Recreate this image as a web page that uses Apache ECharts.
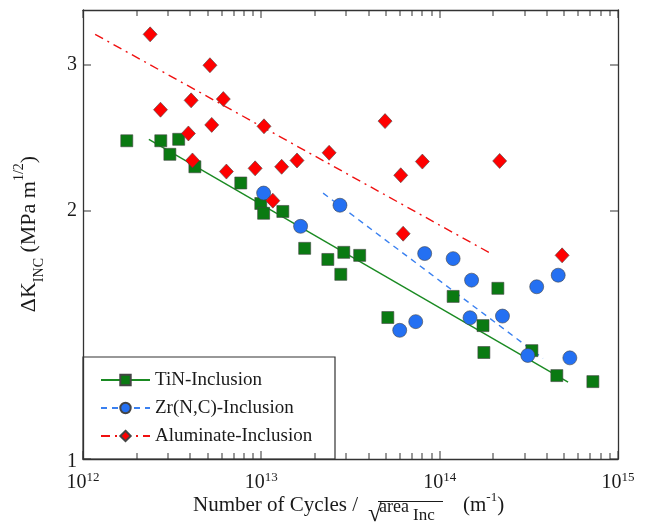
<!DOCTYPE html>
<html>
<head>
<meta charset="utf-8">
<script src="https://cdn.jsdelivr.net/npm/echarts@6/dist/echarts.min.js"></script>
<style>
html,body{margin:0;padding:0;background:#fff;}
#chart{width:646px;height:526px;}
</style>
</head>
<body>
<div id="chart"></div>
<script>
// ---- data ----
const tinX = [1.76e12, 2.73e12, 3.44e12, 3.07e12, 4.24e12, 7.67e12, 9.93e12, 1.03e13, 1.32e13, 1.75e13, 2.36e13, 2.9e13, 2.79e13, 3.56e13, 5.12e13, 1.19e14, 1.75e14, 1.77e14, 2.12e14, 3.29e14, 4.54e14, 7.23e14];
const tinY = [2.43, 2.43, 2.44, 2.34, 2.26, 2.16, 2.04, 1.985, 1.995, 1.80, 1.745, 1.78, 1.674, 1.765, 1.484, 1.574, 1.451, 1.346, 1.61, 1.353, 1.262, 1.241];

const zrX = [1.03e13, 1.66e13, 2.76e13, 8.24e13, 1.19e14, 1.51e14, 1.48e14, 2.25e14, 5.97e13, 7.34e13, 3.5e14, 4.62e14, 3.12e14, 5.37e14];
const zrY = [2.10, 1.914, 2.03, 1.774, 1.749, 1.647, 1.483, 1.49, 1.432, 1.467, 1.617, 1.67, 1.335, 1.326];

const alX = [2.38e12, 2.72e12, 5.15e12, 4.04e12, 6.12e12, 5.27e12, 3.9e12, 1.035e13, 4.11e12, 6.37e12, 9.23e12, 1.3e13, 1.585e13, 1.16e13, 2.4e13, 4.94e13, 8.0e13, 6.05e13, 2.17e14, 6.24e13, 4.86e14];
const alY = [3.27, 2.65, 3.0, 2.72, 2.73, 2.54, 2.48, 2.53, 2.30, 2.23, 2.25, 2.26, 2.30, 2.056, 2.35, 2.567, 2.293, 2.207, 2.297, 1.875, 1.765];

const tinFitX = [2.34e12, 5.25e14];
const tinFitY = [2.44, 1.239];
const zrFitX = [2.22e13, 3.8e14];
const zrFitY = [2.10, 1.324];
const alFitX = [1.17e12, 1.93e14];
const alFitY = [3.27, 1.775];

const seriesNames = ['TiN-Inclusion', 'Zr(N,C)-Inclusion', 'Aluminate-Inclusion'];
const xMin = 1e12, xMax = 1e15;
const yMin = 1, yMax = 3.5;
const yTickValues = [1, 2, 3];
const yTickLabels = ['1', '2', '3'];
const xMajorValues = [1e12, 1e13, 1e14, 1e15];
const xDecades = [1e12, 1e13, 1e14];
const xMinorMult = [2, 3, 4, 5, 6, 7, 8, 9];

// ---- styling ----
const FONT = '"Liberation Serif", "Times New Roman", serif';
const AXIS = '#333';
const TXT = '#1a1a1a';
const GREEN = '#0a7a12', GREEN_LINE = '#1a8a22';
const BLUE = '#2470f2', BLUE_LINE = '#3a80f0';
const RED = '#ff0000', RED_LINE = '#f01010';

const zip = (xs, ys) => xs.map((x, i) => [x, ys[i]]);
const xMinorValues = [];
xDecades.forEach(d => xMinorMult.forEach(m => xMinorValues.push(m * d)));

// tick rows: [x, y, kind]  kind 0 = x major, 1 = x minor, 2 = y major
const tickRows = []
  .concat(xMajorValues.map(v => [v, yMin, 0]))
  .concat(xMinorValues.map(v => [v, yMin, 1]))
  .concat(yTickValues.map(v => [xMin, v, 2]));

const chart = echarts.init(document.getElementById('chart'), null, {renderer: 'canvas'});

function tickRender(params, api) {
  const kind = api.value(2);
  const children = [];
  if (kind === 0 || kind === 1) {
    const v = api.value(0);
    const b = api.coord([v, yMin]);
    const t = api.coord([v, yMax]);
    const len = kind === 0 ? 8 : 6;
    const x = Math.round(b[0]) - 0.5;
    children.push({type: 'rect', shape: {x: x, y: b[1] - len, width: 1, height: len}, style: {fill: AXIS}});
    children.push({type: 'rect', shape: {x: x, y: t[1], width: 1, height: len}, style: {fill: AXIS}});
  } else {
    const v = api.value(1);
    const l = api.coord([xMin, v]);
    const r = api.coord([xMax, v]);
    const y = Math.round(l[1]) - 0.5;
    children.push({type: 'rect', shape: {x: l[0], y: y, width: 8, height: 1}, style: {fill: AXIS}});
    children.push({type: 'rect', shape: {x: r[0] - 8, y: y, width: 8, height: 1}, style: {fill: AXIS}});
    children.push({type: 'text', style: {text: yTickLabels[yTickValues.indexOf(v)], x: l[0] - 6, y: l[1] + (v === 1 ? 3 : 0), align: 'right', verticalAlign: 'middle', fontSize: 20, fontFamily: FONT, fill: TXT}});
  }
  return {type: 'group', children: children};
}

const marker = (color) => ({color: color, borderColor: '#444', borderWidth: 0.6, opacity: 1});

const option = {
  animation: false,
  backgroundColor: '#fff',
  grid: {left: 83, right: 28, top: 10, bottom: 67, containLabel: false},
  xAxis: [
    {
      type: 'log', logBase: 10, min: xMin, max: xMax, position: 'bottom',
      axisLine: {show: true, lineStyle: {color: AXIS, width: 1.3}},
      axisTick: {show: false},
      splitLine: {show: false},
      axisLabel: {
        margin: 12,
        formatter: function (v) {
          const e = Math.round(Math.log10(v));
          return '{b|10}{s|' + e + '}';
        },
        rich: {
          b: {fontSize: 20, fontFamily: FONT, color: TXT, lineHeight: 24},
          s: {fontSize: 13, fontFamily: FONT, color: TXT, verticalAlign: 'top', lineHeight: 24}
        }
      }
    },
    {
      type: 'log', logBase: 10, min: xMin, max: xMax, position: 'top',
      axisLine: {show: true, lineStyle: {color: AXIS, width: 1.3}},
      axisTick: {show: false},
      axisLabel: {show: false}, splitLine: {show: false}
    }
  ],
  yAxis: [
    {
      type: 'log', logBase: 10, min: yMin, max: yMax, position: 'left',
      axisLine: {show: true, lineStyle: {color: AXIS, width: 1.3}},
      axisTick: {show: false}, axisLabel: {show: false}, splitLine: {show: false}
    },
    {
      type: 'log', logBase: 10, min: yMin, max: yMax, position: 'right',
      axisLine: {show: true, lineStyle: {color: AXIS, width: 1.3}},
      axisTick: {show: false}, axisLabel: {show: false}, splitLine: {show: false}
    }
  ],
  legend: {
    orient: 'vertical', left: 100, top: 370.5, padding: 0,
    itemWidth: 49, itemHeight: 13, itemGap: 9,
    data: seriesNames,
    textStyle: {fontSize: 19, fontFamily: FONT, color: TXT},
    selectedMode: false
  },
  graphic: [
    {type: 'rect', shape: {x: 83, y: 357, width: 252, height: 102}, style: {fill: 'rgba(0,0,0,0)', stroke: AXIS, lineWidth: 1.2}, z: 10, silent: true},
    {
      type: 'text', x: 29, y: 234, rotation: Math.PI / 2, z: 10, silent: true,
      style: {
        text: '{m|ΔK}{sub|INC}{m| (MPa m}{sup|1/2}{m|)}',
        align: 'center', verticalAlign: 'middle',
        rich: {
          m: {fontSize: 22, fontFamily: FONT, fill: TXT, lineHeight: 34, verticalAlign: 'middle'},
          sub: {fontSize: 14, fontFamily: FONT, fill: TXT, lineHeight: 34, verticalAlign: 'bottom'},
          sup: {fontSize: 14, fontFamily: FONT, fill: TXT, lineHeight: 34, verticalAlign: 'top'}
        }
      }
    },
    {type: 'text', x: 193, y: 505, z: 10, silent: true, style: {text: 'Number of Cycles / ', fontSize: 21, fontFamily: FONT, fill: TXT, align: 'left', verticalAlign: 'middle'}},
    {type: 'text', x: 368, y: 514, z: 10, silent: true, style: {text: '√', fontSize: 25, fontFamily: FONT, fill: TXT, align: 'left', verticalAlign: 'middle'}},
    {type: 'line', z: 10, silent: true, shape: {x1: 378, y1: 501.5, x2: 443, y2: 501.5}, style: {stroke: TXT, lineWidth: 1}},
    {type: 'text', x: 379, y: 507, z: 10, silent: true, style: {text: 'area', fontSize: 18, fontFamily: FONT, fill: TXT, align: 'left', verticalAlign: 'middle'}},
    {type: 'text', x: 413, y: 516, z: 10, silent: true, style: {text: 'Inc', fontSize: 17, fontFamily: FONT, fill: TXT, align: 'left', verticalAlign: 'middle'}},
    {
      type: 'text', x: 463, y: 505, z: 10, silent: true,
      style: {
        text: '{m|(m}{s|-1}{m|)}', align: 'left', verticalAlign: 'middle',
        rich: {
          m: {fontSize: 21, fontFamily: FONT, fill: TXT, lineHeight: 28, verticalAlign: 'middle'},
          s: {fontSize: 13, fontFamily: FONT, fill: TXT, lineHeight: 28, verticalAlign: 'top'}
        }
      }
    }
  ],
  series: [
    {
      name: seriesNames[0], type: 'line', data: zip(tinFitX, tinFitY),
      symbol: 'rect', showSymbol: false, symbolSize: 11,
      lineStyle: {color: GREEN_LINE, width: 1.4, type: 'solid'},
      itemStyle: marker(GREEN), z: 2
    },
    {
      name: seriesNames[1], type: 'line', data: zip(zrFitX, zrFitY),
      symbol: 'circle', showSymbol: false, symbolSize: 13,
      lineStyle: {color: BLUE_LINE, width: 1.4, type: [6, 5]},
      itemStyle: marker(BLUE), z: 2
    },
    {
      name: seriesNames[2], type: 'line', data: zip(alFitX, alFitY),
      symbol: 'diamond', showSymbol: false, symbolSize: 14,
      lineStyle: {color: RED_LINE, width: 1.4, type: [9, 5, 2, 5]},
      itemStyle: marker(RED), z: 2
    },
    {
      name: 'TiN points', type: 'scatter', data: zip(tinX, tinY),
      symbol: 'rect', symbolSize: 12, itemStyle: marker(GREEN), z: 3
    },
    {
      name: 'Zr points', type: 'scatter', data: zip(zrX, zrY),
      symbol: 'circle', symbolSize: 14, itemStyle: marker(BLUE), z: 3
    },
    {
      name: 'Aluminate points', type: 'scatter', data: zip(alX, alY),
      symbol: 'diamond', symbolSize: [14, 15], itemStyle: marker(RED), z: 3
    },
    {
      name: 'axisTicks', type: 'custom', silent: true, z: 5, clip: false,
      data: tickRows,
      renderItem: tickRender
    }
  ]
};
chart.setOption(option);
</script>
</body>
</html>
